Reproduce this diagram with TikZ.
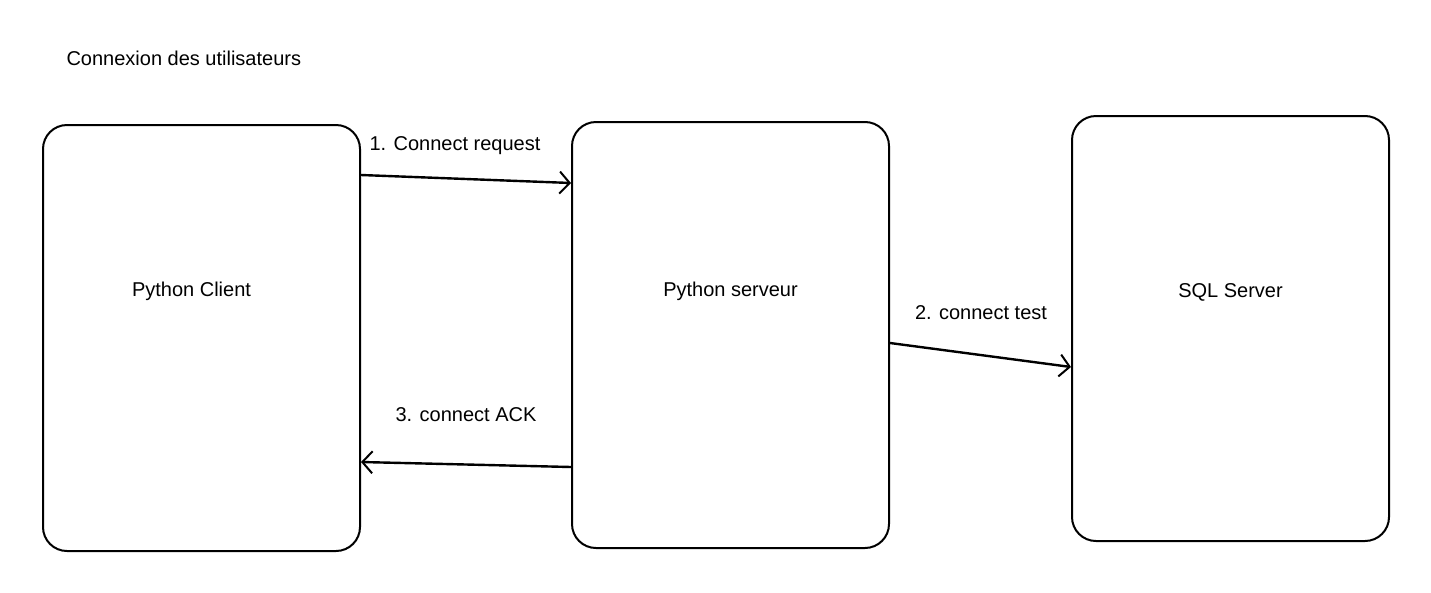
\documentclass[tikz,border=0pt]{standalone}
\usepackage{fontspec}
\setmainfont{Liberation Sans}
\usetikzlibrary{arrows.meta, positioning}

\tikzset{
	box/.style={draw, line width=2pt, rounded corners=24pt, minimum width=317pt, minimum height=426pt},
	link/.style={line width=2.4pt, -{Straight Barb[length=10pt, width=22pt, line width=2pt]}},
	lbl/.style={font=\fontsize{20}{24}\selectfont}
}

\begin{document}
\begin{tikzpicture}[x=1pt, y=-1pt]
	\useasboundingbox (0,0) rectangle (1431,592);

	\node[lbl, anchor=west] (titre) at (63,58) {Connexion des utilisateurs};

	\node[box, label={[lbl, yshift=47pt, xshift=-10pt]center:Python Client}] (client) at (201.5,338) {};
	\node[box, label={[lbl, yshift=44pt]center:Python serveur}] (serveur) at (730.5,335) {};
	\node[box, minimum height=425pt, label={[lbl, yshift=36.5pt]center:SQL Server}] (sql) at (1230.5,328.5) {};

	% requests
	\draw[link] ([yshift=163pt]client.east) -- ([yshift=152pt]serveur.west);
	\draw[link] ([yshift=-8pt]serveur.east) -- ([yshift=-38.5pt]sql.west);
	\draw[link] ([yshift=-132pt]serveur.west) -- ([yshift=-124pt]client.east);

	\node[lbl] (l1) at (455,146) {1. Connect request};
	\node[lbl] (l2) at (981,313) {2. connect test};
	\node[lbl] (l3) at (466,415) {3. connect ACK};
\end{tikzpicture}
\end{document}
